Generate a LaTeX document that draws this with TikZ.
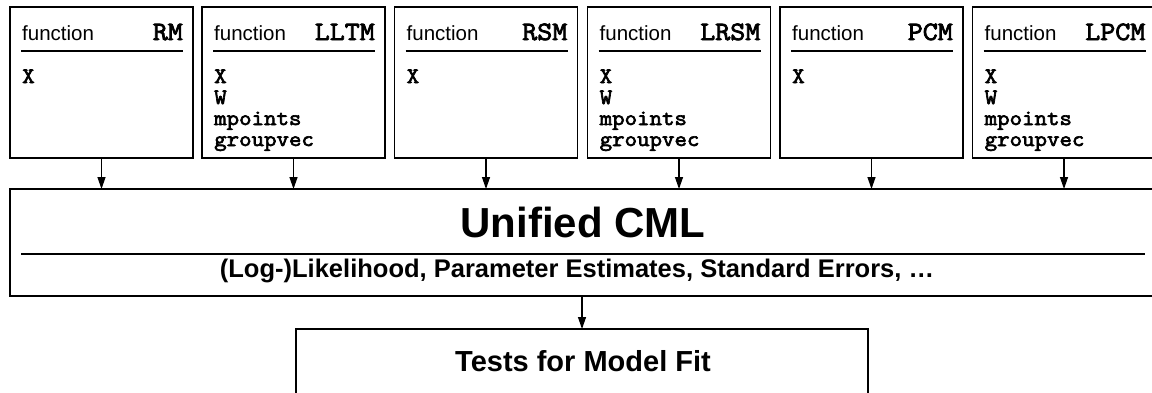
\documentclass[tikz,border=0pt]{standalone}
\usepackage{fontspec}
\setmainfont{Liberation Sans}
\newfontfamily\courb[FakeBold=3,FakeStretch=1.1]{Latin Modern Mono}
\usetikzlibrary{arrows.meta}
\begin{document}
\begin{tikzpicture}[x=1pt,y=-1pt,
  fbox/.style={draw, line width=1.8pt, minimum width=183pt, minimum height=151pt, inner sep=0pt, outer sep=0pt},
  bigbox/.style={draw, line width=1.8pt, inner sep=0pt, outer sep=0pt},
  fnlabel/.style={anchor=base west, inner sep=0pt, font=\fontsize{20.5}{24}\selectfont},
  mname/.style={anchor=base east, inner sep=0pt, font=\fontsize{26.5}{30}\selectfont\courb},
  argtext/.style={anchor=base west, inner sep=0pt, font=\fontsize{22}{24}\selectfont\courb},
  hrule/.style={line width=1.6pt},
  arr/.style={-{Triangle[length=12pt,width=8pt]}, line width=1.3pt}]
\clip (0,0) rectangle (1152,392);
% function boxes
\foreach \nm/\cx/\args in {RM/101.5/{X}, LLTM/293.5/{X,W,mpoints,groupvec}, RSM/486/{X}, LRSM/679/{X,W,mpoints,groupvec}, PCM/871.5/{X}, LPCM/1064/{X,W,mpoints,groupvec}}{
  \node[fbox] (\nm) at (\cx,82.5) {};
  \node[fnlabel] (\nm-fn) at ([xshift=12pt]\nm.west |- 0,40) {function};
  \node[mname] (\nm-name) at ([xshift=-10pt]\nm.east |- 0,40) {\nm};
  \coordinate (\nm-rl) at ([xshift=11pt]\nm.west |- 0,51);
  \coordinate (\nm-rr) at ([xshift=-10pt]\nm.east |- 0,51);
  \draw[hrule] (\nm-rl) -- (\nm-rr);
  \foreach \a [count=\k] in \args {
    \node[argtext] (\nm-arg\k) at ([xshift=12pt]\nm.west |- 0,{83+21*(\k-1)}) {\a};
  }
}
% unified CML
\node[bigbox, minimum width=1146pt, minimum height=107pt] (cml) at (583,242.5) {};
\node[anchor=base, inner sep=0pt, font=\fontsize{42}{46}\selectfont\bfseries] (cml-title) at (583,237) {Unified CML};
\coordinate (cml-rl) at (21,254);
\coordinate (cml-rr) at (1145,254);
\draw[hrule] (cml-rl) -- (cml-rr);
\node[anchor=base, inner sep=0pt, font=\fontsize{25.5}{28}\selectfont\bfseries] (cml-sub) at (577,277) {(Log-)Likelihood, Parameter Estimates, Standard Errors, …};
% tests
\node[bigbox, minimum width=572pt, minimum height=71pt] (tests) at (582,364.5) {};
\node[anchor=base, inner sep=0pt, font=\fontsize{29}{32}\selectfont\bfseries] (tests-title) at (583,371) {Tests for Model Fit};
% arrows
\foreach \nm in {RM,LLTM,RSM,LRSM,PCM,LPCM}{
  \draw[arr] (\nm.south) -- (\nm.south |- cml.north);
}
\draw[arr] (tests.north |- cml.south) -- (tests.north);
\end{tikzpicture}
\end{document}
